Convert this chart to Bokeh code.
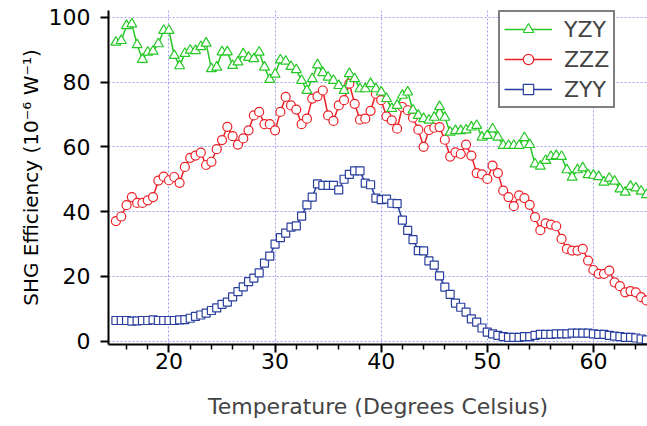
from bokeh.plotting import figure
from bokeh.models import FixedTicker, Legend, LegendItem, Title, Range1d
from bokeh.embed import file_html
from bokeh.resources import INLINE

temperature = [15.0, 15.5, 16.0, 16.5, 17.0, 17.5, 18.0, 18.5, 19.0, 19.5,
               20.0, 20.5, 21.0, 21.5, 22.0, 22.5, 23.0, 23.5, 24.0, 24.5,
               25.0, 25.5, 26.0, 26.5, 27.0, 27.5, 28.0, 28.5, 29.0, 29.5,
               30.0, 30.5, 31.0, 31.5, 32.0, 32.5, 33.0, 33.5, 34.0, 34.5,
               35.0, 35.5, 36.0, 36.5, 37.0, 37.5, 38.0, 38.5, 39.0, 39.5,
               40.0, 40.5, 41.0, 41.5, 42.0, 42.5, 43.0, 43.5, 44.0, 44.5,
               45.0, 45.5, 46.0, 46.5, 47.0, 47.5, 48.0, 48.5, 49.0, 49.5,
               50.0, 50.5, 51.0, 51.5, 52.0, 52.5, 53.0, 53.5, 54.0, 54.5,
               55.0, 55.5, 56.0, 56.5, 57.0, 57.5, 58.0, 58.5, 59.0, 59.5,
               60.0, 60.5, 61.0, 61.5, 62.0, 62.5, 63.0, 63.5, 64.0, 64.5,
               65.0]

yzy = [92.3, 92.8, 97.4, 97.9, 91.5, 87.0, 89.2, 89.5, 91.8, 95.9,
       95.9, 88.2, 85.0, 88.8, 89.8, 89.7, 90.9, 92.0, 84.1, 84.6,
       89.3, 89.3, 85.1, 86.2, 88.7, 87.6, 87.2, 89.2, 84.6, 80.8,
       82.4, 86.8, 86.4, 84.8, 83.8, 80.5, 77.4, 81.0, 85.3, 82.9,
       81.5, 80.5, 78.9, 77.4, 82.6, 81.0, 77.9, 77.9, 79.5, 77.9,
       76.9, 74.9, 71.8, 72.8, 75.9, 76.9, 71.3, 69.7, 68.7, 68.2,
       69.1, 72.4, 69.1, 64.5, 65.0, 65.0, 65.2, 66.1, 66.6, 63.0,
       63.5, 65.5, 63.0, 60.4, 60.4, 60.4, 60.4, 62.8, 60.7, 54.7,
       54.0, 55.8, 57.0, 57.3, 57.0, 52.9, 50.6, 52.9, 53.5, 51.4,
       51.2, 50.8, 49.1, 50.3, 49.4, 47.0, 46.0, 47.8, 47.3, 46.3,
       45.2]

zzz = [37.1, 38.5, 42.0, 44.5, 42.7, 42.7, 43.5, 44.5, 49.6, 50.8,
       49.7, 50.7, 48.9, 53.8, 56.6, 57.3, 58.2, 54.4, 55.4, 59.3,
       62.1, 66.2, 63.3, 60.7, 62.6, 65.1, 69.7, 70.8, 67.0, 67.0,
       65.1, 70.8, 75.4, 72.8, 71.5, 67.0, 68.7, 74.9, 75.6, 77.4,
       69.7, 68.0, 72.8, 74.4, 79.5, 73.3, 68.4, 68.7, 71.1, 76.4,
       74.4, 69.4, 68.2, 65.6, 72.3, 71.3, 69.0, 65.3, 60.0, 65.2,
       65.9, 66.1, 62.2, 57.0, 58.3, 57.8, 60.7, 57.3, 51.9, 51.5,
       50.1, 54.2, 51.9, 46.5, 44.5, 41.7, 45.0, 44.2, 42.1, 38.3,
       34.3, 36.4, 36.0, 35.5, 31.6, 28.5, 28.0, 28.0, 28.5, 24.9,
       22.0, 20.8, 20.8, 21.8, 18.2, 17.0, 15.1, 15.5, 15.1, 13.6,
       12.6]

zyy = [6.4, 6.4, 6.4, 6.2, 6.3, 6.4, 6.4, 6.6, 6.4, 6.4,
       6.4, 6.4, 6.6, 6.7, 7.1, 7.7, 8.1, 8.7, 9.5, 10.3,
       11.4, 12.1, 13.7, 15.3, 16.8, 18.4, 19.5, 21.1, 24.1, 26.3,
       30.0, 32.0, 33.4, 35.2, 35.6, 38.6, 42.1, 44.5, 48.6, 48.1,
       48.1, 48.1, 46.7, 50.0, 51.5, 52.6, 52.6, 48.8, 48.3, 44.2,
       43.7, 43.9, 42.6, 42.5, 37.4, 34.2, 31.4, 28.0, 27.9, 24.8,
       23.5, 20.2, 16.7, 14.5, 11.8, 10.5, 9.0, 6.9, 5.9, 4.1,
       2.8, 2.3, 1.8, 1.4, 1.2, 1.2, 1.2, 1.4, 1.4, 1.8,
       2.1, 2.1, 2.1, 2.3, 2.3, 2.3, 2.5, 2.5, 2.5, 2.5,
       2.3, 2.1, 2.1, 1.8, 1.6, 1.4, 1.2, 1.2, 1.0, 0.7,
       0.4]

x_major_ticks = [20, 30, 40, 50, 60]
x_minor_ticks = [16, 18, 22, 24, 26, 28, 32, 34, 36, 38, 42, 44, 46, 48,
                 52, 54, 56, 58, 62, 64]
y_major_ticks = [0, 20, 40, 60, 80, 100]

series_labels = ["YZY", "ZZZ", "ZYY"]
GREEN = "#26c826"
RED = "#ec2027"
BLUE = "#2a3f9d"
FONT = "DejaVu Sans"

p = figure(width=647, height=426, output_backend="svg", toolbar_location=None,
           x_range=Range1d(14.3, 65.1), y_range=Range1d(-1.0, 102.09),
           min_border_left=108, min_border_right=0, min_border_top=10,
           min_border_bottom=82)
p.outline_line_color = None
p.background_fill_color = "white"

p.xaxis.ticker = FixedTicker(ticks=x_major_ticks, minor_ticks=x_minor_ticks)
p.yaxis.ticker = FixedTicker(ticks=y_major_ticks, minor_ticks=[])

for ax in (p.xaxis, p.yaxis):
    ax.axis_line_width = 2
    ax.axis_line_color = "black"
    ax.major_tick_out = 8
    ax.major_tick_in = 0
    ax.major_tick_line_width = 2
    ax.minor_tick_out = 5
    ax.minor_tick_in = 0
    ax.minor_tick_line_width = 1.5
    ax.major_label_text_font = FONT
    ax.major_label_text_font_size = "22px"
    ax.major_label_text_color = "black"

p.xaxis.major_label_standoff = 0
p.yaxis.major_label_standoff = 10
p.xaxis.axis_label = "Temperature (Degrees Celsius)"
p.xaxis.axis_label_text_font = FONT
p.xaxis.axis_label_text_font_size = "22px"
p.xaxis.axis_label_text_font_style = "normal"
p.xaxis.axis_label_standoff = 22

p.grid.grid_line_color = "#a0a0f0"
p.grid.grid_line_dash = "2 2"
p.grid.grid_line_width = 1

bl = p.line(temperature, zyy, line_color=BLUE, line_width=1.5)
bs = p.scatter(temperature, zyy, marker="square", size=8, line_color=BLUE,
               fill_color="white", line_width=1.2)
rl = p.line(temperature, zzz, line_color=RED, line_width=1.5)
rs = p.scatter(temperature, zzz, marker="circle", size=9, line_color=RED,
               fill_color="white", line_width=1.2)
gl = p.line(temperature, yzy, line_color=GREEN, line_width=1.5)
gs = p.scatter(temperature, yzy, marker="triangle", size=10, line_color=GREEN,
               fill_color="white", line_width=1.2)

legend = Legend(items=[LegendItem(label=series_labels[0], renderers=[gl, gs]),
                       LegendItem(label=series_labels[1], renderers=[rl, rs]),
                       LegendItem(label=series_labels[2], renderers=[bl, bs])],
                location=(390, 236))
legend.border_line_color = "black"
legend.border_line_width = 2
legend.background_fill_color = "white"
legend.background_fill_alpha = 1
legend.label_text_font = FONT
legend.label_text_font_size = "22px"
legend.glyph_width = 48
legend.glyph_height = 26
legend.label_height = 26
legend.label_standoff = 12
legend.spacing = 4
legend.padding = 4
legend.margin = 0
p.add_layout(legend)

ytitle = Title(text="SHG Efficiency (10\u207b\u2076 W\u207b\u00b9)", align="center",
               text_font=FONT, text_font_size="20px", text_font_style="normal",
               text_color="black", offset=28, standoff=6)
p.add_layout(ytitle, "left")

open("out.html", "w").write(file_html(p, INLINE))
